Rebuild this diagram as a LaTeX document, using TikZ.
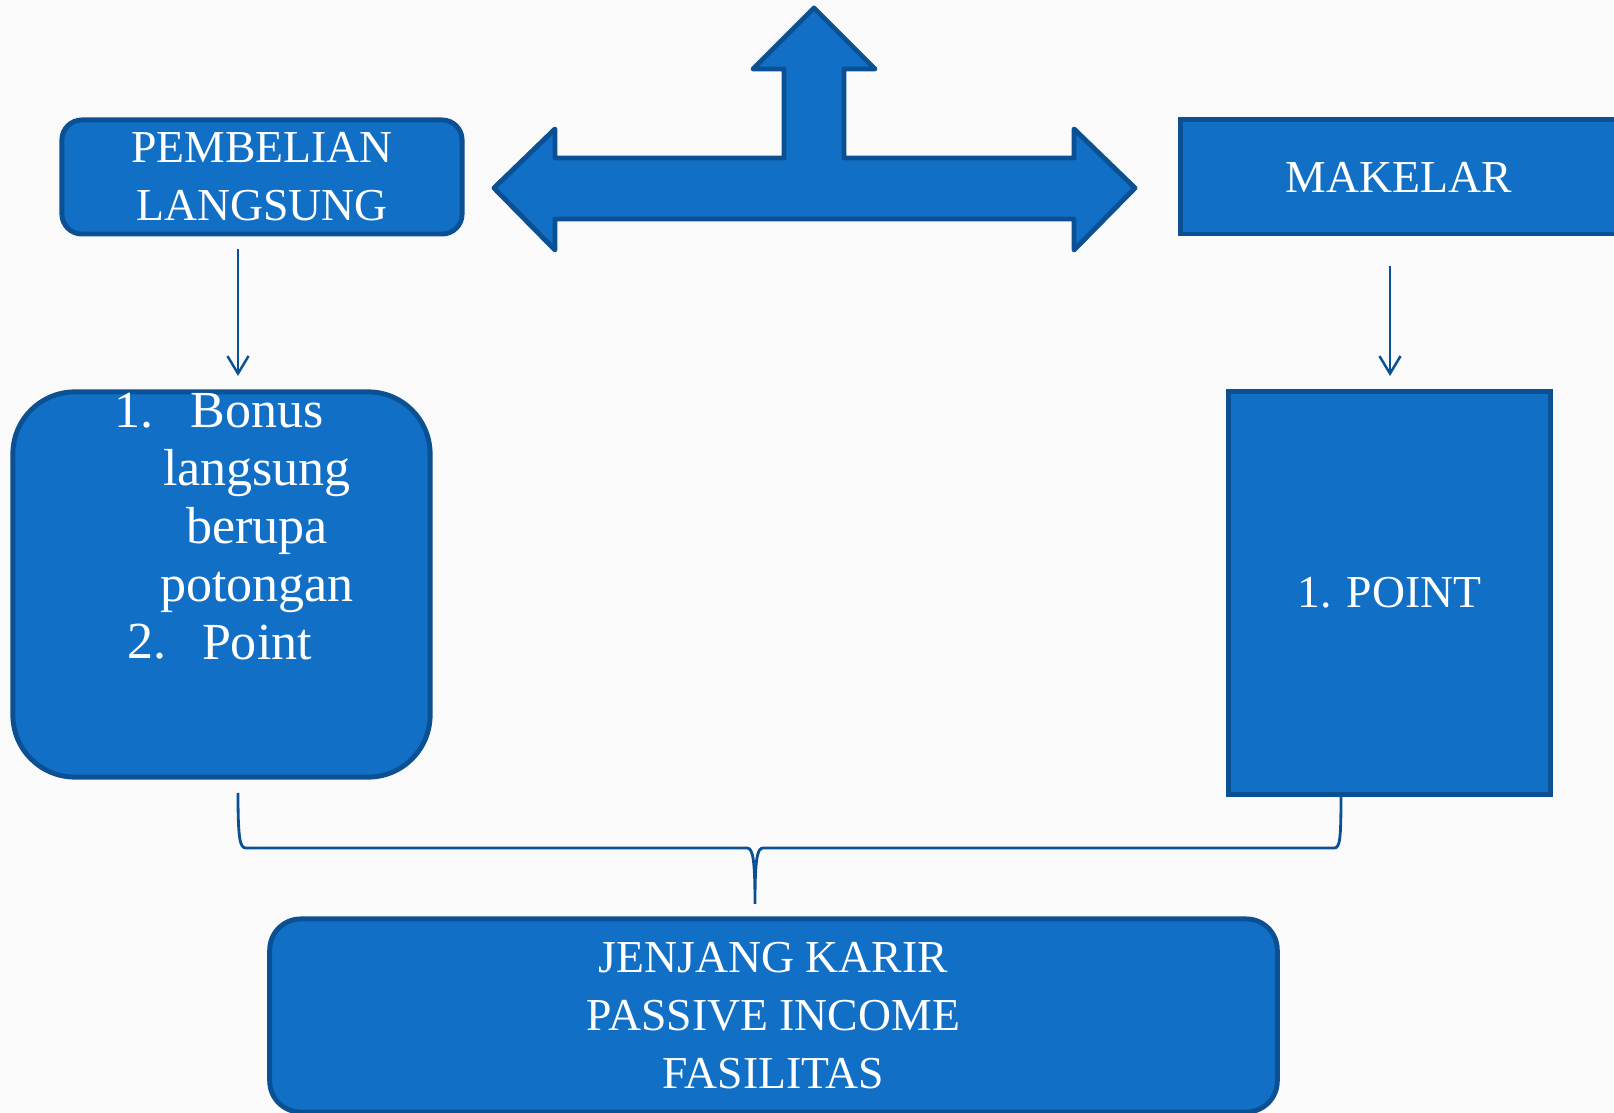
\documentclass[tikz,border=0pt]{standalone}
\usepackage{fontspec}
\setmainfont{Liberation Serif}
\usepackage{tikz}
\usetikzlibrary{arrows.meta, positioning, calc}
\definecolor{boxfill}{RGB}{17,112,198}
\definecolor{boxline}{RGB}{12,80,148}
\tikzset{
  panel/.style={draw=boxline, fill=boxfill, line width=1.4pt, text=white,
    font=\fontsize{13}{16.5}\selectfont, align=center, inner sep=0pt},
  flow/.style={draw=boxline, line width=0.7pt, -{Straight Barb[length=5pt,width=6pt]}},
  brace/.style={draw=boxline, line width=0.8pt},
  listtext/.style={text=white, font=\fontsize{14.8}{16.5}\selectfont, align=center, inner sep=0pt}
}
\begin{document}
\begin{tikzpicture}[x=0.01cm, y=-0.01cm]
  \useasboundingbox[fill=black!2] (0,0) rectangle (1614,1113);
  % boxes
  \node (PL) [panel, rounded corners=0.2cm, minimum width=4cm, minimum height=1.14cm] at (262,177) {PEMBELIAN\\LANGSUNG};
  \node (MK) [panel, minimum width=4.35cm, minimum height=1.14cm] at (1398.5,177) {MAKELAR};
  \node (LB) [panel, rounded corners=0.62cm, minimum width=4.17cm, minimum height=3.85cm] at (221.5,584.5) {};
  \node (PT) [panel, minimum width=3.21cm, minimum height=4.02cm] at (1389.5,593) {1. POINT};
  \node (JK) [panel, rounded corners=0.31cm, minimum width=10.07cm, minimum height=1.93cm] at (773.5,1015.5) {JENJANG KARIR\\PASSIVE INCOME\\FASILITAS};
  % list text
  \node (LT) [listtext] at (257,532) {Bonus\strut\\langsung\strut\\berupa\strut\\potongan\strut\\Point\strut};
  \node (N1) [listtext] at (134,416) {1.\strut};
  \node (N2) [listtext] at (147,647) {2.\strut};
  % big arrow
  \draw[draw=boxline, fill=boxfill, line width=1.4pt, line join=round]
    (494,188) -- (555,129) -- (555,158) -- (784,158) -- (784,69) -- (753,69)
    -- (814,8) -- (875,69) -- (844,69) -- (844,158) -- (1074,158) -- (1074,129)
    -- (1135,188) -- (1074,250) -- (1074,219) -- (555,219) -- (555,250) -- cycle;
  % arrows down
  \coordinate (a1) at (238,249);
  \coordinate (a2) at (238,376);
  \coordinate (b1) at (1390,266);
  \coordinate (b2) at (1390,376);
  \draw[flow] (a1) to (a2);
  \draw[flow] (b1) to (b2);
  % brace
  \coordinate (bl) at (238,793);
  \coordinate (bm) at (755,904);
  \coordinate (br) at (1341,794);
  \draw[brace] (bl) .. controls (238,840) and (240,848) .. (246,848) -- (747,848)
    .. controls (753,848) and (755,860) .. (bm)
    .. controls (755,860) and (757,848) .. (763,848) -- (1334,848)
    .. controls (1340,848) and (1341,840) .. (br);
\end{tikzpicture}
\end{document}
